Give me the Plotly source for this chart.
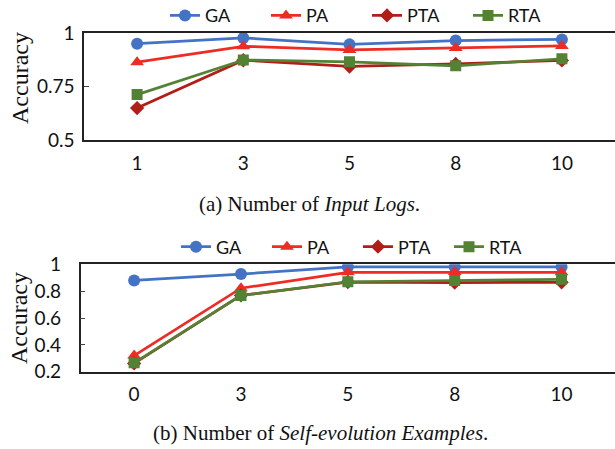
import plotly.graph_objects as go

series = ["GA", "PA", "PTA", "RTA"]
colors = {"GA": "#4472C4", "PA": "#EE2B24", "PTA": "#B01E18", "RTA": "#548235"}
symbols = {"GA": "circle", "PA": "triangle-up", "PTA": "diamond", "RTA": "square"}
msize = {"GA": 12, "PA": 12, "PTA": 11, "RTA": 11}

# (a) Number of Input Logs
logs_x = ["1", "3", "5", "8", "10"]
logs_vals = {
    "GA":  [0.950, 0.977, 0.947, 0.965, 0.970],
    "PA":  [0.864, 0.938, 0.921, 0.930, 0.940],
    "PTA": [0.650, 0.873, 0.844, 0.856, 0.872],
    "RTA": [0.713, 0.874, 0.866, 0.847, 0.880],
}

# (b) Number of Self-evolution Examples
evo_x = ["0", "3", "5", "8", "10"]
evo_vals = {
    "GA":  [0.880, 0.927, 0.980, 0.980, 0.980],
    "PA":  [0.320, 0.822, 0.940, 0.942, 0.940],
    "PTA": [0.262, 0.768, 0.868, 0.864, 0.866],
    "RTA": [0.266, 0.768, 0.870, 0.880, 0.888],
}

W, H = 615, 449
fig = go.Figure()

for s in series:
    fig.add_trace(go.Scatter(
        x=logs_x, y=logs_vals[s], name=s, mode="lines+markers",
        line=dict(color=colors[s], width=2.75),
        marker=dict(symbol=symbols[s], size=msize[s], color=colors[s]),
        xaxis="x", yaxis="y", legend="legend"))
for s in series:
    fig.add_trace(go.Scatter(
        x=evo_x, y=evo_vals[s], name=s, mode="lines+markers",
        line=dict(color=colors[s], width=2.75),
        marker=dict(symbol=symbols[s], size=msize[s], color=colors[s]),
        xaxis="x2", yaxis="y2", legend="legend2"))

tickfont = dict(family="Lato, Carlito, sans-serif", size=19, color="#111")
axis_common = dict(showgrid=False, zeroline=False, linecolor="#222", linewidth=1.5,
                   automargin=False)

fig.update_layout(
    width=W, height=H, margin=dict(l=0, r=0, t=0, b=0, autoexpand=False),
    paper_bgcolor="white", plot_bgcolor="white",
    xaxis=dict(domain=[84 / W, 1], anchor="y", type="category", range=[-0.5, 4.5],
               showline=True, mirror=True, ticks="", tickfont=tickfont,
               ticklabelstandoff=5, **axis_common),
    yaxis=dict(domain=[1 - 140.3 / H, 1 - 33 / H], anchor="x", range=[0.5, 1],
               tickvals=[0.5, 0.75, 1], ticktext=["0.5", "0.75", "1"],
               showline=True, ticks="inside", ticklen=5, tickcolor="#444",
               tickfont=tickfont, ticklabelstandoff=4, **axis_common),
    xaxis2=dict(domain=[80.7 / W, 1], anchor="y2", type="category", range=[-0.5, 4.5],
                showline=True, mirror=True, ticks="", tickfont=tickfont,
                ticklabelstandoff=5, **axis_common),
    yaxis2=dict(domain=[1 - 371.7 / H, 1 - 264.3 / H], anchor="x2", range=[0.2, 1],
                tickvals=[0.2, 0.4, 0.6, 0.8, 1], ticktext=["0.2", "0.4", "0.6", "0.8", "1"],
                showline=True, ticks="inside", ticklen=5, tickcolor="#444",
                tickfont=tickfont, ticklabelstandoff=14, **axis_common),
    legend=dict(orientation="h", x=165 / W, xanchor="left", y=1 - 15.7 / H, yanchor="middle",
                font=dict(family="Lato, sans-serif", size=18, color="#111"),
                entrywidth=56, entrywidthmode="pixels", bgcolor="rgba(0,0,0,0)"),
    legend2=dict(orientation="h", x=176 / W, xanchor="left", y=1 - 247 / H, yanchor="middle",
                 font=dict(family="Lato, sans-serif", size=18, color="#111"),
                 entrywidth=46, entrywidthmode="pixels", bgcolor="rgba(0,0,0,0)"),
    showlegend=True,
)

serif = "Liberation Serif, Times New Roman, serif"
ann = [
    dict(text="Accuracy", x=20 / W, y=1 - 78 / H, textangle=-90,
         font=dict(family=serif, size=24, color="#111")),
    dict(text="Accuracy", x=19 / W, y=1 - 318 / H, textangle=-90,
         font=dict(family=serif, size=24, color="#111")),
    dict(text="(a) Number of <i>Input Logs</i>.", x=309 / W, y=1 - 204 / H,
         font=dict(family=serif, size=21, color="#111")),
    dict(text="(b) Number of <i>Self-evolution Examples</i>.", x=320 / W, y=1 - 433 / H,
         font=dict(family=serif, size=21, color="#111")),
]
for a in ann:
    a.update(xref="paper", yref="paper", showarrow=False, xanchor="center", yanchor="middle")
fig.update_layout(annotations=ann)

fig.write_html("out.html", config={"displayModeBar": False},
               post_script="document.body.style.margin='0';document.body.style.overflow='hidden';")
